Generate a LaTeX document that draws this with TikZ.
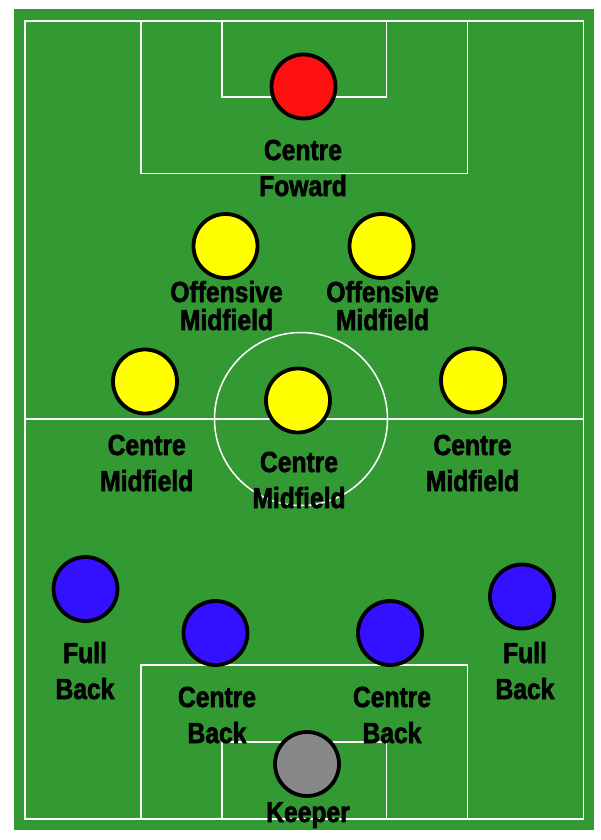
\documentclass[tikz,border=0pt]{standalone}
\usepackage{fontspec}
\newfontfamily\lab{Liberation Sans Bold}[FakeStretch=0.85, FakeBold=2]
\definecolor{pitch}{RGB}{51,153,51}
\definecolor{fwd}{RGB}{255,16,16}
\definecolor{mid}{RGB}{255,255,0}
\definecolor{def}{RGB}{51,17,255}
\definecolor{gk}{RGB}{136,136,136}
\tikzset{
  player/.style={circle, draw=black, line width=3.8pt, minimum size=64pt, inner sep=0pt},
  pline/.style={draw=white, line width=1.5pt},
  plabel/.style={anchor=base, align=center, inner sep=0pt, text=black,
    font={\lab\fontsize{29}{36}\selectfont}},
  olabel/.style={plabel, font={\lab\fontsize{29}{28}\selectfont}}
}
\begin{document}
\begin{tikzpicture}[x=1pt, y=-1pt]
\useasboundingbox (0,0) rectangle (600,840);
% pitch
\fill[pitch] (14,9.5) rectangle (594,829.5);
\draw[pline] (25,21) rectangle (583.5,819);
\draw[pline] (141,21) rectangle (467.5,173.5);
\draw[pline] (222,21) rectangle (386.5,97);
\draw[pline] (141,819) rectangle (467.5,665);
\draw[pline] (222,819) rectangle (386.5,742);
\draw[pline] (25,419) -- (583.5,419);
\draw[pline] (301,419) circle (86.5);
% players
\node[player, fill=fwd] (cf) at (303.5,86.5) {};
\node[player, fill=mid] (oml) at (225.5,246) {};
\node[player, fill=mid] (omr) at (381.5,246) {};
\node[player, fill=mid] (cml) at (145,381.5) {};
\node[player, fill=mid] (cmc) at (298,400.5) {};
\node[player, fill=mid] (cmr) at (473,380.5) {};
\node[player, fill=def] (fbl) at (85.5,589) {};
\node[player, fill=def] (fbr) at (522,596.5) {};
\node[player, fill=def] (cbl) at (215.5,633) {};
\node[player, fill=def] (cbr) at (390,633) {};
\node[player, fill=gk] (gk) at (307,764) {};
% labels (anchored at the baseline of the last line)
\node[plabel] (lcf) at (303,196) {Centre\\Foward};
\node[olabel] (loml) at (226.5,330) {Offensive\\Midfield};
\node[olabel] (lomr) at (382.5,330) {Offensive\\Midfield};
\node[plabel] (lcml) at (146.7,491) {Centre\\Midfield};
\node[plabel] (lcmc) at (299,508) {Centre\\Midfield};
\node[plabel] (lcmr) at (472.5,491) {Centre\\Midfield};
\node[plabel] (lfbl) at (85,699) {Full\\Back};
\node[plabel] (lfbr) at (525,699) {Full\\Back};
\node[plabel] (lcbl) at (217,743) {Centre\\Back};
\node[plabel] (lcbr) at (392,743) {Centre\\Back};
\node[plabel] (lgk) at (308,822) {Keeper};
\end{tikzpicture}
\end{document}
